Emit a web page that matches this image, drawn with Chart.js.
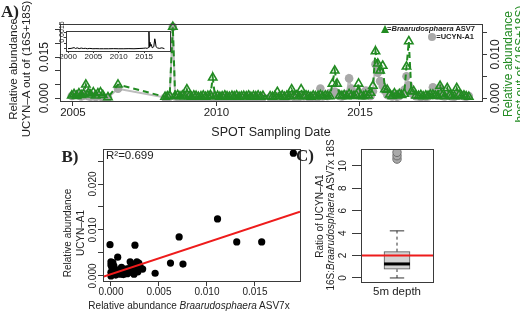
<!DOCTYPE html>
<html>
<head>
<meta charset="utf-8">
<script src="https://cdn.jsdelivr.net/npm/chart.js@4.4.1/dist/chart.umd.min.js"></script>
<style>
  html, body { margin: 0; padding: 0; background: #fff; }
  #page { position: relative; width: 520px; height: 315px; overflow: hidden;
          font-family: "Liberation Sans", Arial, Helvetica, sans-serif; color: #222; }
  canvas { position: absolute; }
  .t { position: absolute; white-space: nowrap; line-height: 1; }
  .v { transform: translate(-50%, -50%) rotate(-90deg); }
  .h { transform: translate(-50%, -50%); }
  .r { transform: translate(-100%, -50%); }
  .l { transform: translate(0, -50%); }
  .tag { font-family: "Liberation Serif", "Times New Roman", serif; font-weight: bold; font-size: 17px; }
</style>
</head>
<body>
<div id="page">
  <canvas id="chartA" width="520" height="140" style="left:0;top:0;width:520px;height:140px"></canvas>
  <canvas id="inset" width="140" height="45" style="left:40px;top:20px;width:140px;height:45px"></canvas>
  <canvas id="chartB" width="260" height="170" style="left:60px;top:140px;width:260px;height:170px"></canvas>
  <canvas id="chartC" width="130" height="170" style="left:330px;top:140px;width:130px;height:170px"></canvas>

  <!-- panel A text -->
  <div class="t v" style="left:14px;top:69px;font-size:11.5px">Relative abundance</div>
  <div class="t v" style="left:27px;top:69px;font-size:11.5px">UCYN–A out of (16S+18S)</div>
  <div class="t h tag" style="left:10px;top:11px;background:#fff">A)</div>
  <div class="t v" style="left:508px;top:64px;font-size:12px;color:#228B22">Relative abundance</div>
  <div class="t v" style="left:520px;top:64px;font-size:12px;color:#228B22">host out of (16S+18S)</div>
  <div class="t h" style="left:271px;top:132px;font-size:12.5px">SPOT Sampling Date</div>
  <div style="position:absolute;left:381px;top:25px;width:0;height:0;border-left:4.5px solid transparent;border-right:4.5px solid transparent;border-bottom:8px solid #228B22"></div>
  <div class="t r" style="left:475px;top:29px;font-size:7.5px;font-weight:bold">=<i>Braarudosphaera</i> ASV7</div>
  <div style="position:absolute;left:428px;top:33px;width:8px;height:8px;border-radius:50%;background:#a9a9a9"></div>
  <div class="t r" style="left:474px;top:37px;font-size:7.5px;font-weight:bold">=UCYN-A1</div>

  <!-- panel B text -->
  <div class="t h tag" style="left:70px;top:156px">B)</div>
  <div class="t l" style="left:106px;top:156px;font-size:11.5px">R²=0.699</div>
  <div class="t v" style="left:68px;top:233px;font-size:10px">Relative abundance</div>
  <div class="t v" style="left:81px;top:233px;font-size:10px">UCYN–A1</div>
  <div class="t h" style="left:189px;top:306px;font-size:10px">Relative abundance <i>Braarudosphaera</i> ASV7x</div>

  <!-- panel C text -->
  <div class="t h tag" style="left:305px;top:155px">C)</div>
  <div class="t v" style="left:320px;top:216px;font-size:10px">Ratio of UCYN–A1</div>
  <div class="t v" style="left:331px;top:215px;font-size:10px">16S:<i>Braarudosphaera</i> ASV7x 18S</div>
</div>

<script>
// ---- panel A: SPOT time series (x = decimal year) ----
var sampleDates = [
  2004.96, 2005.04, 2005.13, 2005.21, 2005.29, 2005.37, 2005.45, 2005.54, 2005.62, 2005.71, 2005.79, 2005.87, 2005.96, 2006.04, 2006.22, 2006.57,
  2008.21, 2008.29, 2008.37, 2008.48, 2008.56, 2008.65, 2008.73, 2008.81, 2008.89, 2008.97,
  2009.05, 2009.13, 2009.21, 2009.29, 2009.37, 2009.46, 2009.54, 2009.62, 2009.70, 2009.79, 2009.87, 2009.95,
  2010.04, 2010.12, 2010.20, 2010.29, 2010.37, 2010.45, 2010.54, 2010.62, 2010.70, 2010.79, 2010.87, 2010.95,
  2011.04, 2011.12, 2011.20, 2011.29, 2011.37, 2011.45, 2011.54, 2011.62, 2011.87, 2011.95,
  2012.04, 2012.12, 2012.20, 2012.29, 2012.37, 2012.45, 2012.54, 2012.62, 2012.70, 2012.79, 2012.87, 2012.95,
  2013.04, 2013.12, 2013.20, 2013.29, 2013.37, 2013.45, 2013.54, 2013.62, 2013.70, 2013.79, 2013.87, 2013.95,
  2014.04, 2014.12, 2014.20, 2014.29, 2014.37, 2014.45, 2014.54, 2014.62, 2014.70, 2014.79, 2014.87, 2014.95,
  2015.04, 2015.12, 2015.20, 2015.29, 2015.37, 2015.45, 2015.54, 2015.62, 2015.70, 2015.79, 2015.87, 2015.95,
  2016.04, 2016.12, 2016.20, 2016.29, 2016.37, 2016.45, 2016.54, 2016.62, 2016.70, 2016.79, 2016.87, 2016.95,
  2017.04, 2017.12, 2017.20, 2017.29, 2017.37, 2017.45, 2017.54, 2017.62, 2017.70, 2017.79, 2017.87, 2017.95,
  2018.04, 2018.12, 2018.20, 2018.29, 2018.37, 2018.45, 2018.54, 2018.62, 2018.70, 2018.79
];
// Braarudosphaera ASV7 (right axis)
var asv7Abund = [
  .0006, .0009, .0005, .0011, .0007, .0010, .0031, .0012, .0008, .0013, .0006, .0011, .0013, .0007, .0002, .0031,
  .0003, .0004, .0006, .0163, .0005, .0007, .0004, .0006, .0004, .0020,
  .0004, .0003, .0006, .0005, .0003, .0004, .0006, .0003, .0005, .0007, .0047, .0004,
  .0005, .0003, .0004, .0006, .0004, .0003, .0005, .0004, .0006, .0003, .0004, .0005,
  .0004, .0006, .0003, .0005, .0004, .0006, .0003, .0005, .0004, .0003,
  .0005, .0014, .0004, .0006, .0003, .0005, .0004, .0020, .0005, .0006, .0004, .0020,
  .0004, .0006, .0005, .0003, .0006, .0004, .0005, .0007, .0004, .0006, .0005, .0004,
  .0033, .0063, .0033, .0006, .0005, .0007, .0004, .0009, .0006, .0005, .0007, .0033,
  .0005, .0004, .0007, .0006, .0012, .0028, .0107, .0079, .0063, .0074, .0020, .0019,
  .0008, .0005, .0011, .0006, .0009, .0007, .0010, .0072, .0130, .0015, .0016, .0006,
  .0005, .0007, .0004, .0006, .0005, .0008, .0008, .0006, .0005, .0028, .0006, .0004,
  .0023, .0006, .0005, .0004, .0023, .0007, .0005, .0006, .0004, .0003
];
// UCYN-A1 (left axis)
var ucynAbund = [
  .0008, .0012, .0015, .0010, .0006, .0009, .0016, .0007, .0005, .0009, .0004, .0008, .0006, .0003, .0002, .0034,
  .0002, .0003, .0005, .0260, .0006, .0004, .0003, .0004, .0003, .0008,
  .0003, .0002, .0004, .0003, .0002, .0003, .0004, .0002, .0003, .0004, .0009, .0003,
  .0003, .0002, .0003, .0004, .0003, .0002, .0003, .0002, .0004, .0002, .0003, .0004,
  .0003, .0004, .0002, .0003, .0003, .0004, .0002, .0003, .0003, .0002,
  .0004, .0008, .0003, .0005, .0003, .0004, .0006, .0012, .0004, .0005, .0003, .0010,
  .0006, .0010, .0004, .0003, .0008, .0005, .0004, .0035, .0006, .0009, .0007, .0019,
  .0019, .0024, .0014, .0008, .0006, .0010, .0015, .0072, .0035, .0012, .0016, .0022,
  .0012, .0009, .0028, .0014, .0008, .0025, .0124, .0093, .0062, .0044, .0026, .0012,
  .0009, .0006, .0012, .0005, .0008, .0018, .0030, .0080, .0047, .0022, .0012, .0007,
  .0006, .0004, .0007, .0005, .0006, .0012, .0040, .0016, .0009, .0034, .0008, .0006,
  .0012, .0008, .0006, .0005, .0015, .0009, .0010, .0007, .0005, .0008
];
var yearTicks = [2005, 2010, 2015];
var leftTicks = [0, 0.005, 0.01, 0.015, 0.02, 0.025];
var leftLabels = [0, 0.015];
var rightTicks = [0, 0.005, 0.01, 0.015];
var rightLabels = [0, 0.01];

// ---- inset: longer record ----
var insetDates = [
  2000.0, 2000.6, 2001.2, 2001.5, 2001.8, 2002.2, 2002.6, 2003.0, 2003.4, 2003.8, 2004.3, 2004.9,
  2005.5, 2006.2, 2007.0, 2008.0, 2009.0, 2010.0, 2011.0, 2012.0, 2013.0, 2014.0, 2014.8, 2015.3,
  2015.6, 2015.8, 2015.95, 2016.05, 2016.15, 2016.25, 2016.4, 2016.6, 2016.9, 2017.1, 2017.2, 2017.35,
  2017.6, 2018.0, 2018.5, 2019.0
];
var insetAbund = [
  .00003, .00005, .00012, .00004, .00010, .00003, .00008, .00004, .00006, .00002, .00005, .00002,
  .00003, .00002, .00002, .00002, .00003, .00002, .00002, .00003, .00002, .00004, .00006, .00008,
  .00005, .00012, .00155, .00020, .00060, .00030, .00040, .00010, .00020, .00090, .00070, .00020,
  .00010, .00005, .00010, .00003
];
var insetYearTicks = [2000, 2005, 2010, 2015];
var insetTicks = [0, 0.0005, 0.001, 0.0015];
var insetLabels = [0.0015];

// ---- panel B: UCYN-A1 vs Braarudosphaera ASV7x ----
var braaX = [-0.0001, 0.0007, 0.0000, 0.0000, 0.0001, 0.0002, 0.0000, 0.0003, 0.0005, 0.0000, 0.0008, 0.0010,
  0.0012, 0.0014, 0.0016, 0.0018, 0.0020, 0.0022, 0.0023, 0.0025, 0.0026, 0.0027, 0.0028, 0.0030, 0.0031,
  0.0033, 0.0004, 0.0006, 0.0009, 0.0011, 0.0013, 0.0015, 0.0017, 0.0019, 0.0021, 0.0024, 0.0029, 0.0003,
  0.0001, 0.0002, 0.0046, 0.0062, 0.0071, 0.0075, 0.0111, 0.0131, 0.0157, 0.0190];
var ucynY = [0.0068, 0.0041, 0.0031, 0.0024, 0.0018, 0.0012, 0.0008, 0.0005, 0.0002, 0.0000, 0.0010, 0.0004,
  0.0013, 0.0007, 0.0011, 0.0016, 0.0031, 0.0026, 0.0012, 0.0067, 0.0019, 0.0031, 0.0009, 0.0022, 0.0017,
  0.0015, 0.0015, 0.0009, 0.0014, 0.0019, 0.0003, 0.0015, 0.0005, 0.0008, 0.0014, 0.0004, 0.0028, 0.0022,
  0.0003, 0.0029, 0.0006, 0.0028, 0.0085, 0.0026, 0.0124, 0.0074, 0.0074, 0.0267];
var fitIntercept = 0.0004;
var fitSlope = 0.69;
var bXTicks = [0, 0.005, 0.01, 0.015];
var bYTicks = [0, 0.005, 0.01, 0.015, 0.02, 0.025];
var bYLabels = [0, 0.01, 0.02];

// ---- panel C: ratio boxplot ----
var boxStats = [0, 0.78, 1.25, 2.35, 4.2];   // low whisker, q1, median, q3, high whisker
var boxOutliers = [10.6, 10.9, 11.2];
var ratioLine = 2;
var cTicks = [0, 2, 4, 6, 8, 10];

// ---- styling ----
var green = '#228B22';
var ink = '#222';
var frame = '#3a3a3a';
var red = '#ee1b1b';

Chart.defaults.font.family = '"Liberation Sans", Arial, Helvetica, sans-serif';
Chart.defaults.color = ink;
Chart.defaults.plugins.legend.display = false;
Chart.defaults.plugins.tooltip.enabled = false;

var boxPlugin = {
  id: 'box',
  afterDraw: function(chart) {
    var a = chart.chartArea, c = chart.ctx;
    c.save();
    c.strokeStyle = frame;
    c.lineWidth = 1;
    c.strokeRect(Math.round(a.left) + 0.5, Math.round(a.top) + 0.5,
                 Math.round(a.right - a.left), Math.round(a.bottom - a.top));
    c.restore();
  }
};
var paperPlugin = {
  id: 'paper',
  beforeDatasetsDraw: function(chart) {
    var a = chart.chartArea, c = chart.ctx;
    c.save();
    c.fillStyle = '#fff';
    c.fillRect(a.left, a.top, a.right - a.left, a.bottom - a.top);
    c.restore();
  }
};

function pairs(xs, ys) {
  return xs.map(function(x, i) { return {x: x, y: ys[i]}; });
}

function axis(o) {
  var vertical = o.pos === 'left' || o.pos === 'right';
  return {
    type: 'linear', position: o.pos, min: o.min, max: o.max, bounds: 'data', offset: false,
    afterBuildTicks: function(s) { s.ticks = o.ticks.map(function(v) { return {value: v}; }); },
    afterFit: function(s) { if (vertical) s.width = o.size; else s.height = o.size; },
    border: {display: false},
    grid: {display: o.tl > 0, drawOnChartArea: false, tickLength: o.tl, color: frame},
    ticks: {
      autoSkip: false,
      minRotation: vertical ? 90 : 0, maxRotation: vertical ? 90 : 0,
      crossAlign: vertical ? 'center' : 'near',
      padding: o.pad, color: ink, font: {size: o.font},
      callback: o.fmt || function(v) {
        var shown = o.shown || o.ticks;
        return shown.indexOf(v) >= 0 ? v.toFixed(o.digits) : '';
      }
    }
  };
}

// ---- chart A ----
new Chart(document.getElementById('chartA'), {
  type: 'line',
  data: {
    datasets: [{
      label: 'Braarudosphaera ASV7',
      data: pairs(sampleDates, asv7Abund),
      yAxisID: 'yR', order: 0,
      borderColor: green, borderWidth: 2, borderDash: [6, 4],
      pointStyle: 'triangle', pointRadius: 4.8, pointBorderWidth: 1.6,
      pointBackgroundColor: 'rgba(0,0,0,0)', pointBorderColor: green,
      clip: 8
    }, {
      label: 'UCYN-A1',
      data: pairs(sampleDates, ucynAbund),
      yAxisID: 'yL', order: 1,
      borderColor: '#bdbdbd', borderWidth: 2,
      pointStyle: 'circle', pointRadius: 4.3, pointBorderWidth: 0,
      pointBackgroundColor: '#a9a9a9',
      clip: 8
    }]
  },
  options: {
    responsive: false, animation: false, devicePixelRatio: 1,
    layout: {padding: {top: 24}},
    scales: {
      x: axis({pos: 'bottom', min: 2004.55, max: 2019.25, ticks: yearTicks, digits: 0, size: 39, tl: 5, pad: 0, font: 11.5}),
      yL: axis({pos: 'left', min: -0.00104, max: 0.02704, ticks: leftTicks, shown: leftLabels, digits: 3, size: 60, tl: 5, pad: -5, font: 12}),
      yR: axis({pos: 'right', min: -0.00065, max: 0.01695, ticks: rightTicks, shown: rightLabels, digits: 3, size: 38, tl: 5, pad: -6, font: 12})
    }
  },
  plugins: [boxPlugin]
});

// ---- inset ----
new Chart(document.getElementById('inset'), {
  type: 'line',
  data: {
    datasets: [{
      data: pairs(insetDates, insetAbund),
      borderColor: '#000', borderWidth: 1, pointRadius: 0
    }]
  },
  options: {
    responsive: false, animation: false, devicePixelRatio: 1,
    layout: {padding: {top: 11, right: 10}},
    scales: {
      x: axis({pos: 'bottom', min: 1999.6, max: 2020.1, ticks: insetYearTicks, digits: 0, size: 14, tl: 2, pad: -1, font: 8}),
      y: axis({pos: 'left', min: -0.00018, max: 0.00159, ticks: insetTicks, shown: insetLabels, digits: 4, size: 26, tl: 2, pad: -8.7, font: 7})
    }
  },
  plugins: [paperPlugin, boxPlugin]
});

// ---- chart B ----
var bXMin = -0.00083, bXMax = 0.01969;
new Chart(document.getElementById('chartB'), {
  type: 'scatter',
  data: {
    datasets: [{
      data: pairs(braaX, ucynY), order: 1,
      pointRadius: 3.6, pointBackgroundColor: '#000', pointBorderWidth: 0
    }, {
      type: 'line', order: 0,
      data: pairs([bXMin, bXMax], [fitIntercept + fitSlope * bXMin, fitIntercept + fitSlope * bXMax]),
      borderColor: red, borderWidth: 2, pointRadius: 0, showLine: true
    }]
  },
  options: {
    responsive: false, animation: false, devicePixelRatio: 1,
    layout: {padding: {top: 9, right: 20}},
    scales: {
      x: axis({pos: 'bottom', min: bXMin, max: bXMax, ticks: bXTicks, digits: 3, size: 29, tl: 5, pad: 0, font: 10}),
      y: axis({pos: 'left', min: -0.00109, max: 0.02761, ticks: bYTicks, shown: bYLabels, digits: 3, size: 43, tl: 5, pad: -7.5, font: 10})
    }
  },
  plugins: [boxPlugin]
});

// ---- chart C ----
var boxCenter = 0.5, boxHalf = 0.18, capHalf = 0.1;
new Chart(document.getElementById('chartC'), {
  type: 'bar',
  data: {
    datasets: [{
      type: 'line', order: 0,
      data: pairs([0, 1], [ratioLine, ratioLine]),
      borderColor: red, borderWidth: 2, pointRadius: 0
    }, {
      type: 'line', order: 1, showLine: false,
      data: boxOutliers.map(function(v) { return {x: boxCenter, y: v}; }),
      pointRadius: 4.2, pointBackgroundColor: '#a9a9a9', pointBorderColor: '#6e6e6e', pointBorderWidth: 1
    }, {
      type: 'line', order: 2,
      data: pairs([boxCenter - boxHalf, boxCenter + boxHalf], [boxStats[2], boxStats[2]]),
      borderColor: '#000', borderWidth: 3, pointRadius: 0
    }, {
      type: 'line', order: 3,
      data: pairs([boxCenter, boxCenter], [boxStats[3], boxStats[4]]),
      borderColor: '#333', borderWidth: 1, borderDash: [3, 3], pointRadius: 0
    }, {
      type: 'line', order: 3,
      data: pairs([boxCenter, boxCenter], [boxStats[0], boxStats[1]]),
      borderColor: '#333', borderWidth: 1, borderDash: [3, 3], pointRadius: 0
    }, {
      type: 'line', order: 3,
      data: pairs([boxCenter - capHalf, boxCenter + capHalf], [boxStats[4], boxStats[4]]),
      borderColor: '#333', borderWidth: 1, pointRadius: 0
    }, {
      type: 'line', order: 3,
      data: pairs([boxCenter - capHalf, boxCenter + capHalf], [boxStats[0], boxStats[0]]),
      borderColor: '#333', borderWidth: 1, pointRadius: 0
    }, {
      type: 'bar', order: 4,
      data: [{x: boxCenter, y: [boxStats[1], boxStats[3]]}],
      backgroundColor: '#d3d3d3', borderColor: '#555', borderWidth: 1, borderSkipped: false,
      barThickness: 26
    }]
  },
  options: {
    responsive: false, animation: false, devicePixelRatio: 1,
    layout: {padding: {top: 9, right: 27}},
    scales: {
      x: axis({pos: 'bottom', min: 0, max: 1, ticks: [boxCenter], size: 28, tl: 0, pad: 3, font: 11.5,
               fmt: function() { return '5m depth'; }}),
      y: axis({pos: 'left', min: -0.36, max: 11.5, ticks: cTicks, digits: 0, size: 31, tl: 9, pad: 3, font: 10})
    }
  },
  plugins: [boxPlugin]
});
</script>
</body>
</html>
